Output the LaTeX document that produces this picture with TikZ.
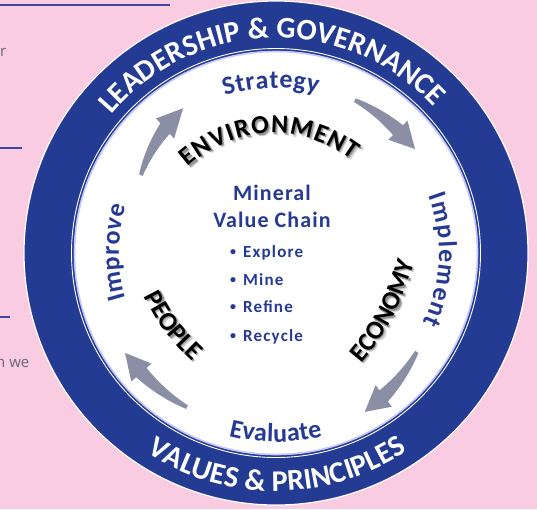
\documentclass[tikz,border=0pt]{standalone}
\usepackage{fontspec}
\setmainfont{Carlito}
\newfontfamily\sidefont{Open Sans}
\newfontfamily\midfont{Carlito}[LetterSpace=5]
\newfontfamily\bulfont{Carlito}[LetterSpace=7]
\usetikzlibrary{decorations.text}
\definecolor{bgpink}{RGB}{249,204,225}
\definecolor{bandblue}{RGB}{35,59,147}
\definecolor{txtblue}{RGB}{38,58,148}
\definecolor{arrowgray}{RGB}{138,143,166}
\definecolor{sidegray}{RGB}{105,105,110}
\definecolor{lineblue}{RGB}{60,72,160}
\newcommand\bandfmt{\color{white}\bfseries\fontsize{30}{32}\selectfont}
\newcommand\ringfmt{\color{txtblue}\bfseries\fontsize{26}{28}\selectfont}
\newcommand\topicfmt{\color{black}\bfseries\fontsize{26}{28}\selectfont}
\newcommand\shadowfmt{\color{black!42}\bfseries\fontsize{26}{28}\selectfont}
\newcommand\shadowfarfmt{\color{black!18}\bfseries\fontsize{26}{28}\selectfont}
\newcommand{\cycarrow}[5]{%
  \pgfmathsetmacro{\rb}{(#4)+((#5)-(#4))*((#1)-(#2))/((#1)-(#3))}%
  \fill[arrowgray] plot[domain=#1:#2, samples=25]
      (\x:{(#4)+((#5)-(#4))*((#1)-(\x))/((#1)-(#3)) + (4+10*((#1)-(\x))/((#1)-(#2)))/2})
    -- (#2:{\rb+13.5}) -- (#3:#5) -- (#2:{\rb-13.5})
    -- plot[domain=#2:#1, samples=25]
      (\x:{(#4)+((#5)-(#4))*((#1)-(\x))/((#1)-(#3)) - (4+10*((#1)-(\x))/((#1)-(#2)))/2})
    -- cycle;}
\newcommand{\topicwords}[1]{%
  \path[decorate, decoration={text along path, text align={fit to path},
      text={|#1|ENVIRONMENT}}] (188,-167) to[bend left=39] (352,-160);
  \path[decorate, decoration={text along path, text align={fit to path},
      text={|#1|ECONOMY}}] (361,-363) to[bend right=12] (413,-266);
  \path[decorate, decoration={text along path, text align={fit to path},
      text={|#1|PEOPLE}}] (144,-296) to[bend right=10] (192,-361);}
\tikzset{
  sidetext/.style={font=\sidefont\fontsize{15}{17}\selectfont, text=sidegray, inner sep=0pt},
  sideline/.style={lineblue, line width=1.6pt},
  midtxt/.style={font=\midfont\bfseries\fontsize{22}{24}\selectfont, text=txtblue, inner sep=0pt},
  bultxt/.style={font=\bulfont\bfseries\fontsize{17}{19}\selectfont, text=txtblue, inner sep=0pt},
}
\newcommand\smallbullet{\makebox[14pt][l]{\hspace{1pt}\raisebox{1.3pt}{\fontsize{12}{12}\selectfont\textbullet}}}
\begin{document}
\begin{tikzpicture}[x=1pt,y=1pt]
\useasboundingbox (0,0) rectangle (537,-509);
\fill[bgpink] (0,0) rectangle (537,-509);

% fragments of surrounding page
\draw[sideline] (0,-5) -- (170,-5);
\draw[sideline] (0,-148) -- (22,-148);
\draw[sideline] (0,-317) -- (10,-317);
\node[sidetext, anchor=base west] (frag1) at (0,-56) {r};
\node[sidetext, anchor=base west] (frag2) at (-4,-367) {n we};

% main rings
\coordinate (C) at (276,-253);
\fill[bandblue, draw=white, line width=1.2pt] (C) circle[radius=252];
\draw[white, line width=0.9pt] (C) circle[radius=204.5];
\fill[white] (C) circle[radius=202];
\draw[blue!22!white, line width=1.6pt] (C) circle[radius=201.5];

\begin{scope}[shift={(276,-253)}]
  % outer band texts
  \path[decorate, decoration={text along path, text align={fit to path},
      text={|\bandfmt|LEADERSHIP {\&} GOVERNANCE}}]
      (140:215) arc[start angle=140, end angle=43.5, radius=215];
  \path[decorate, decoration={text along path, text align={fit to path},
      text={|\bandfmt|VALUES {\&} PRINCIPLES}}]
      (-123:238) arc[start angle=-123, end angle=-56.5, radius=238];
  % cycle texts
  \path[decorate, decoration={text along path, text align={fit to path},
      text={|\ringfmt|Strategy}}]
      (108:165) arc[start angle=108, end angle=75.5, radius=165];
  \path[decorate, decoration={text along path, text align={fit to path},
      text={|\ringfmt|Implement}}]
      (20.5:163) arc[start angle=20.5, end angle=-25.5, radius=163];
  \path[decorate, decoration={text along path, text align={fit to path},
      text={|\ringfmt|Evaluate}}]
      (-104.5:189) arc[start angle=-104.5, end angle=-75.7, radius=189];
  \path[decorate, decoration={text along path, text align={fit to path},
      text={|\ringfmt|Improve}}]
      (197:157) arc[start angle=197, end angle=162.5, radius=157];
  % cycle arrows
  \cycarrow{62.7}{45.2}{36.8}{172}{173.6}
  \cycarrow{-35.1}{-53}{-60.8}{172}{182}
  \cycarrow{-120}{-138.4}{-146.5}{178}{181}
  \cycarrow{150}{131.7}{122.7}{156}{172}
\end{scope}

% curved topic words with soft shadow
\begin{scope}[shift={(2.6,-2.6)}]
  \topicwords{\shadowfarfmt}
\end{scope}
\begin{scope}[shift={(1.4,-1.4)}]
  \topicwords{\shadowfmt}
\end{scope}
\topicwords{\topicfmt}

% centre text
\node[midtxt, anchor=base] (mineral) at (272,-200) {Mineral};
\node[midtxt, anchor=base] (vchain) at (272,-227) {Value Chain};
\node[bultxt, anchor=base west] (b1) at (229,-257) {\smallbullet Explore};
\node[bultxt, anchor=base west] (b2) at (229,-285) {\smallbullet Mine};
\node[bultxt, anchor=base west] (b3) at (229,-312) {\smallbullet Refine};
\node[bultxt, anchor=base west] (b4) at (229,-341) {\smallbullet Recycle};
\end{tikzpicture}
\end{document}
